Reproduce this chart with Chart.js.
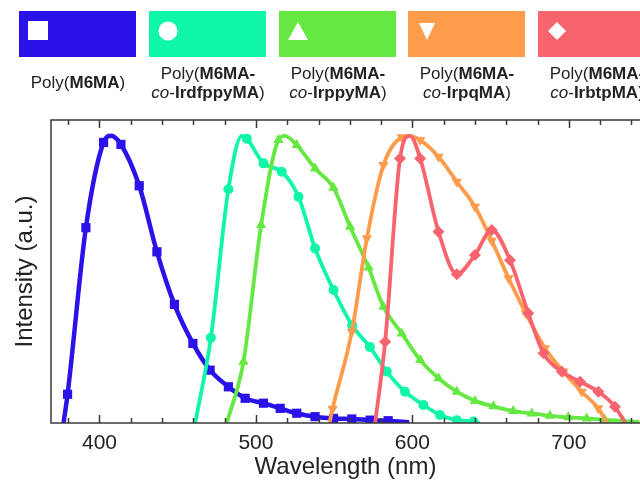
<!DOCTYPE html>
<html lang="en">
<head>
<meta charset="UTF-8">
<title>Emission spectra</title>
<script src="https://cdn.jsdelivr.net/npm/chart.js@4"></script>
<style>
  * { margin: 0; padding: 0; box-sizing: border-box; }
  body { width: 640px; height: 482px; overflow: hidden; background: #fff; font-family: 'Liberation Sans', Arial, sans-serif; color: #222; }
  .wrap { position: relative; width: 640px; height: 482px; }
  canvas { position: absolute; left: 0; top: 0; }
  /* colour keys above the plot */
  .key { position: absolute; top: 11px; width: 117px; height: 46px; }
  .key svg { position: absolute; left: 9px; top: 10px; }
  .label { position: absolute; width: 150px; text-align: center; font-size: 17px; line-height: 19px; white-space: nowrap; }
</style>
</head>
<body>
<div class="wrap">
  <canvas id="spectra" width="640" height="482"></canvas>

  <div class="key" style="left:19px;background:#2a12e8">
    <svg width="20" height="20"><rect x="0" y="0" width="20" height="19" fill="#fff"/></svg>
  </div>
  <div class="key" style="left:149px;background:#10f6a8">
    <svg width="20" height="20"><circle cx="10" cy="10" r="9.5" fill="#fff"/></svg>
  </div>
  <div class="key" style="left:279px;background:#66e843">
    <svg width="20" height="20"><polygon points="10,1 20,19 0,19" fill="#fff"/></svg>
  </div>
  <div class="key" style="left:408px;background:#ff9c4c">
    <svg width="20" height="20"><polygon points="2,2 18,2 10,19" fill="#fff"/></svg>
  </div>
  <div class="key" style="left:538px;background:#f8646e">
    <svg width="20" height="20"><polygon points="10,1 19,10 10,19 1,10" fill="#fff"/></svg>
  </div>

  <div class="label" style="left:3px;top:73px">Poly(<b>M6MA</b>)</div>
  <div class="label" style="left:133px;top:64px">Poly(<b>M6MA-</b><br><i>co</i>-<b>IrdfppyMA</b>)</div>
  <div class="label" style="left:263px;top:64px">Poly(<b>M6MA-</b><br><i>co</i>-<b>IrppyMA</b>)</div>
  <div class="label" style="left:392px;top:64px">Poly(<b>M6MA-</b><br><i>co</i>-<b>IrpqMA</b>)</div>
  <div class="label" style="left:522px;top:64px">Poly(<b>M6MA-</b><br><i>co</i>-<b>IrbtpMA</b>)</div>
</div>

<script>
// axis ticks (nm)
const xTicks = [400, 500, 600, 700];
const xMinorTicks = [380, 400, 420, 440, 460, 480, 500, 520, 540, 560, 580, 600, 620, 640, 660, 680, 700, 720, 740];

// Poly(M6MA)
const blueWl = [377, 379.6, 391.3, 402.6, 407.3, 413.7, 425.4, 436.7, 447.9, 459.7, 470.7, 482.4, 493.1, 504.8, 515.5, 526.1, 537.8, 549.6, 561.3, 573, 584.5, 598];
const blueI  = [0, 0.10, 0.68, 0.977, 1.0, 0.97, 0.826, 0.596, 0.413, 0.277, 0.184, 0.126, 0.086, 0.069, 0.051, 0.034, 0.022, 0.016, 0.014, 0.010, 0.008, 0.002];

// Poly(M6MA-co-IrdfppyMA)
const cyanWl = [461.2, 471.2, 482.4, 491, 494.2, 504.8, 516.5, 527.2, 537.8, 549.6, 561.5, 572.8, 583.6, 595.3, 607, 617.7, 628.4, 639, 643];
const cyanI  = [0, 0.297, 0.814, 1.0, 0.99, 0.904, 0.875, 0.788, 0.608, 0.463, 0.34, 0.265, 0.179, 0.109, 0.063, 0.028, 0.010, 0.005, 0];

// Poly(M6MA-co-IrppyMA)
const greenWl = [481.4, 492, 503.3, 514.4, 518.5, 526.1, 537.8, 549.6, 560.2, 572, 581.5, 593.2, 605, 616.7, 628.4, 640, 651.8, 664.5, 676.3, 688, 699.7, 711.4, 723, 734.7, 745];
const greenI  = [0, 0.213, 0.689, 0.985, 1.0, 0.968, 0.886, 0.819, 0.683, 0.541, 0.405, 0.312, 0.219, 0.156, 0.109, 0.077, 0.058, 0.042, 0.033, 0.025, 0.02, 0.016, 0.011, 0.007, 0.004];

// Poly(M6MA-co-IrpqMA)
const orangeWl = [547, 549, 561.3, 570.9, 581.5, 593.2, 598, 605, 616.7, 628.4, 640, 650.7, 661.5, 672.5, 684.8, 696.5, 708.2, 718.8, 724.5];
const orangeI  = [0, 0.05, 0.318, 0.643, 0.898, 0.995, 1.0, 0.985, 0.927, 0.84, 0.753, 0.635, 0.504, 0.382, 0.26, 0.179, 0.109, 0.051, 0];

// Poly(M6MA-co-IrbtpMA)
const redWl = [576.2, 582.6, 592.1, 598.5, 605, 616.7, 628.4, 640, 650.7, 662.4, 674.1, 683.8, 695.5, 707.2, 718.9, 729.5, 736];
const redI  = [0, 0.283, 0.921, 1.0, 0.921, 0.666, 0.518, 0.585, 0.672, 0.567, 0.382, 0.243, 0.179, 0.144, 0.109, 0.057, 0];

// plain = indices drawn without a marker
const series = [
  { label: 'Poly(M6MA)', wl: blueWl, val: blueI, color: '#2a12e8', shape: 'rect', r: 6.5, rot: 0, width: 4.5, plain: [0, 4, 21], order: 5 },
  { label: 'Poly(M6MA-co-IrdfppyMA)', wl: cyanWl, val: cyanI, color: '#10f6a8', shape: 'circle', r: 5, rot: 0, width: 3.8, plain: [0, 3, 18], order: 4 },
  { label: 'Poly(M6MA-co-IrppyMA)', wl: greenWl, val: greenI, color: '#66e843', shape: 'triangle', r: 6, rot: 0, width: 3.8, plain: [0, 4, 24], order: 3 },
  { label: 'Poly(M6MA-co-IrpqMA)', wl: orangeWl, val: orangeI, color: '#ff9c4c', shape: 'triangle', r: 6, rot: 180, width: 3.8, plain: [0, 6, 18], order: 2 },
  { label: 'Poly(M6MA-co-IrbtpMA)', wl: redWl, val: redI, color: '#f8646e', shape: 'rectRot', r: 6, rot: 0, width: 3.8, plain: [0, 3, 16], order: 1 }
];

// frame on three sides with inward ticks top and bottom
const framePlugin = {
  id: 'frame',
  afterDatasetsDraw(chart) {
    const { ctx, chartArea: a, scales: { x } } = chart;
    ctx.save();
    ctx.strokeStyle = '#3a3a3a';
    ctx.lineWidth = 1.5;
    ctx.beginPath();
    ctx.moveTo(a.right + 2, a.top);
    ctx.lineTo(a.left, a.top);
    ctx.lineTo(a.left, a.bottom);
    ctx.lineTo(a.right + 2, a.bottom);
    ctx.stroke();
    ctx.beginPath();
    xMinorTicks.forEach(v => {
      const px = Math.round(x.getPixelForValue(v)) + 0.5;
      const len = v % 100 === 0 ? 8 : 5;
      ctx.moveTo(px, a.bottom);
      ctx.lineTo(px, a.bottom - len);
      ctx.moveTo(px, a.top);
      ctx.lineTo(px, a.top + len);
    });
    ctx.stroke();
    ctx.restore();
  }
};

Chart.defaults.font.family = "'Liberation Sans', Arial, sans-serif";
Chart.defaults.color = '#222';

new Chart(document.getElementById('spectra'), {
  type: 'line',
  data: {
    datasets: series.map(s => ({
      label: s.label,
      data: s.wl.map((w, i) => ({ x: w, y: s.val[i] })),
      borderColor: s.color,
      backgroundColor: s.color,
      borderWidth: s.width,
      cubicInterpolationMode: 'monotone',
      pointStyle: s.shape,
      pointRotation: s.rot,
      pointRadius: ctx => s.plain.includes(ctx.dataIndex) ? 0 : s.r,
      pointBorderWidth: 0,
      order: s.order,
      fill: false
    }))
  },
  options: {
    responsive: false,
    animation: false,
    devicePixelRatio: 1,
    layout: { padding: { top: 120, left: 0, right: 0, bottom: 0 } },
    plugins: { legend: { display: false }, tooltip: { enabled: false } },
    scales: {
      x: {
        type: 'linear',
        min: 369,
        max: 745.5,
        afterBuildTicks: scale => { scale.ticks = xTicks.map(v => ({ value: v })); },
        grid: { display: false, drawTicks: false },
        border: { display: false },
        ticks: { font: { size: 21, lineHeight: 1.2 }, padding: 7.4 },
        title: { display: true, text: 'Wavelength (nm)', font: { size: 24, lineHeight: 1.2 }, padding: { top: -9.8, bottom: 0 } }
      },
      y: {
        min: 0,
        max: 1.055,
        grid: { display: false, drawTicks: false },
        border: { display: false },
        ticks: { display: false },
        title: { display: true, text: 'Intensity (a.u.)', font: { size: 24, lineHeight: 1.2 }, padding: { top: 10.6, bottom: 11.6 } }
      }
    }
  },
  plugins: [framePlugin]
});
</script>
</body>
</html>
